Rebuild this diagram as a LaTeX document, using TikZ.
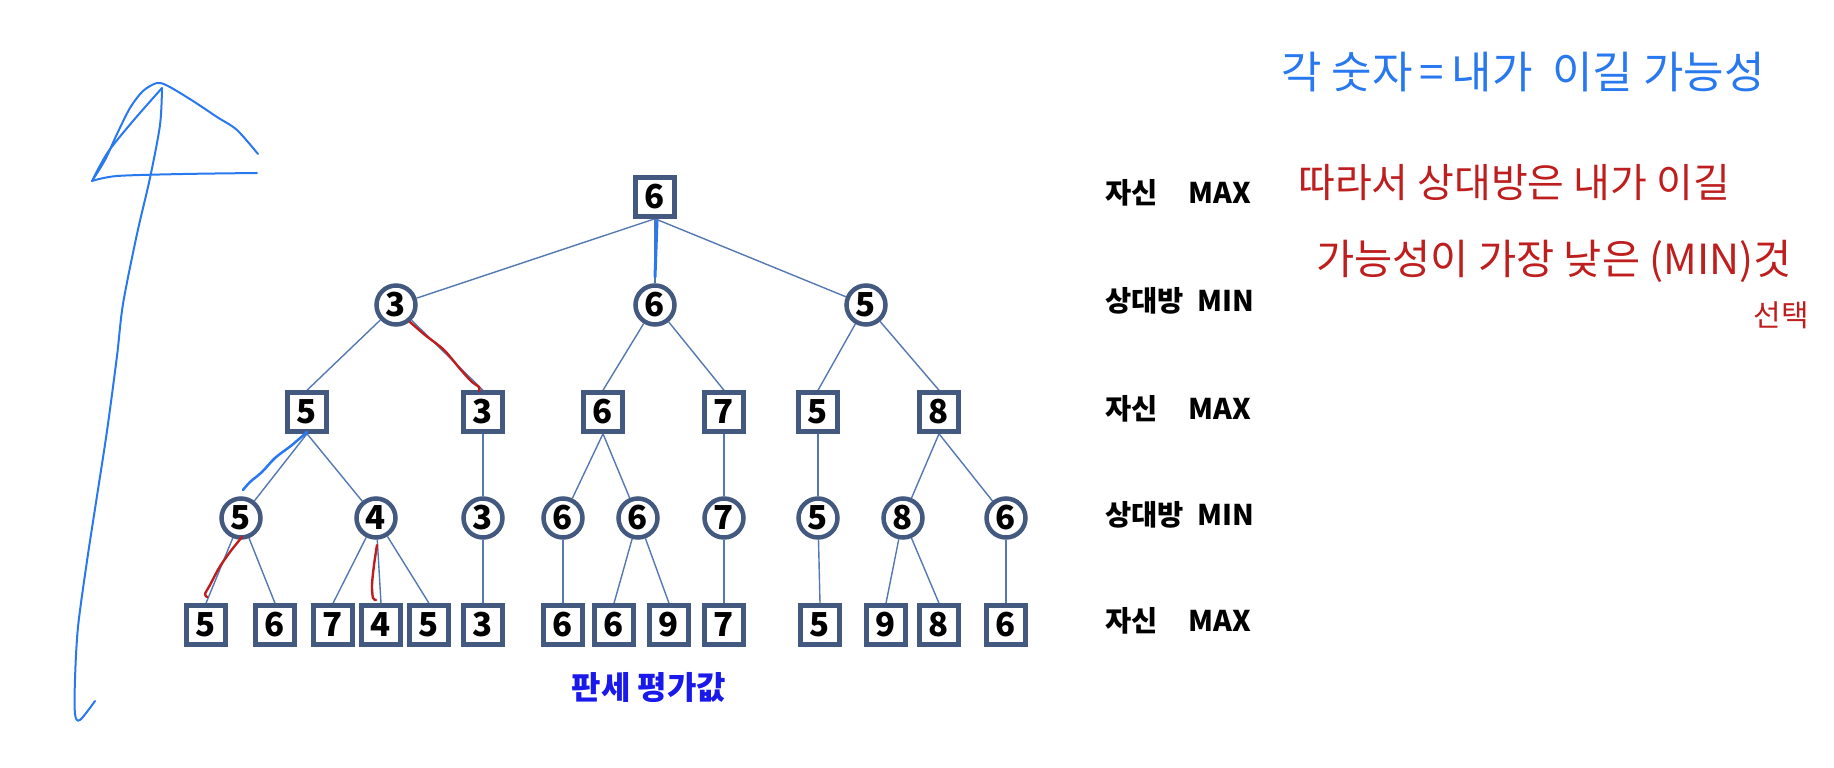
\documentclass[tikz,border=0pt]{standalone}
\usepackage{fontspec}
\setmainfont{Noto Sans CJK KR}
\usetikzlibrary{backgrounds}
\definecolor{nodeborder}{RGB}{68,89,128}
\definecolor{edgecol}{RGB}{84,120,178}
\definecolor{penblue}{RGB}{40,120,240}
\definecolor{penred}{RGB}{190,30,30}
\definecolor{titleblue}{RGB}{25,25,235}
\tikzset{
  sq/.style={draw=nodeborder, line width=4.5pt, fill=white, rectangle, minimum size=39pt, inner sep=0pt,
             font=\fontsize{33pt}{33pt}\selectfont\bfseries},
  ci/.style={draw=nodeborder, line width=4.5pt, fill=white, circle, minimum size=39pt, inner sep=0pt,
             font=\fontsize{33pt}{33pt}\selectfont\bfseries},
  edge/.style={draw=edgecol, line width=1.4pt},
  lvl/.style={anchor=west, inner sep=0pt, font=\fontsize{28.5pt}{28.5pt}\selectfont\bfseries},
  bluepen/.style={draw=penblue, line width=2pt, line cap=round, line join=round},
  redpen/.style={draw=penred, line width=2.4pt, line cap=round, line join=round},
}
\begin{document}
\begin{tikzpicture}[x=1pt, y=-1pt]
\useasboundingbox (0,0) rectangle (1834,768);
% root
\node[sq] (r) at (655,197) {6};
% level 1
\node[ci] (a) at (396,305) {3};
\node[ci] (b) at (655,305) {6};
\node[ci] (c) at (866,305) {5};
% level 2
\node[sq] (a1) at (307,412) {5};
\node[sq] (a2) at (483,412) {3};
\node[sq] (b1) at (603,412) {6};
\node[sq] (b2) at (724,412) {7};
\node[sq] (c1) at (818,412) {5};
\node[sq] (c2) at (939,412) {8};
% level 3
\node[ci] (a11) at (241,518) {5};
\node[ci] (a12) at (376,518) {4};
\node[ci] (a21) at (483,518) {3};
\node[ci] (b11) at (563,518) {6};
\node[ci] (b12) at (638,518) {6};
\node[ci] (b21) at (724,518) {7};
\node[ci] (c11) at (818,518) {5};
\node[ci] (c21) at (903,518) {8};
\node[ci] (c22) at (1006,518) {6};
% leaves
\node[sq] (l1) at (206,625) {5};
\node[sq] (l2) at (275,625) {6};
\node[sq] (l3) at (333,625) {7};
\node[sq] (l4) at (381,625) {4};
\node[sq] (l5) at (429,625) {5};
\node[sq] (l6) at (483,625) {3};
\node[sq] (l7) at (563,625) {6};
\node[sq] (l8) at (614,625) {6};
\node[sq] (l9) at (669,625) {9};
\node[sq] (l10) at (724,625) {7};
\node[sq] (l11) at (820,625) {5};
\node[sq] (l12) at (886,625) {9};
\node[sq] (l13) at (939,625) {8};
\node[sq] (l14) at (1006,625) {6};
% edges
\begin{scope}[on background layer]
\draw[edge] (r.south) -- (a);
\draw[edge] (r.south) -- (b);
\draw[edge] (r.south) -- (c);
\draw[edge] (a) -- (a1.north);
\draw[edge] (a) -- (a2.north);
\draw[edge] (b) -- (b1.north);
\draw[edge] (b) -- (b2.north);
\draw[edge] (c) -- (c1.north);
\draw[edge] (c) -- (c2.north);
\draw[edge] (a1.south) -- (a11);
\draw[edge] (a1.south) -- (a12);
\draw[edge] (a2.south) -- (a21);
\draw[edge] (b1.south) -- (b11);
\draw[edge] (b1.south) -- (b12);
\draw[edge] (b2.south) -- (b21);
\draw[edge] (c1.south) -- (c11);
\draw[edge] (c2.south) -- (c21);
\draw[edge] (c2.south) -- (c22);
\draw[edge] (a11) -- (l1.north);
\draw[edge] (a11) -- (l2.north);
\draw[edge] (a12) -- (l3.north);
\draw[edge] (a12) -- (l4.north);
\draw[edge] (a12) -- (l5.north);
\draw[edge] (a21) -- (l6.north);
\draw[edge] (b11) -- (l7.north);
\draw[edge] (b12) -- (l8.north);
\draw[edge] (b12) -- (l9.north);
\draw[edge] (b21) -- (l10.north);
\draw[edge] (c11) -- (l11.north);
\draw[edge] (c21) -- (l12.north);
\draw[edge] (c21) -- (l13.north);
\draw[edge] (c22) -- (l14.north);
\end{scope}
% caption
\node[font=\fontsize{32pt}{32pt}\selectfont\bfseries, text=titleblue] (cap) at (649,688) {판세 평가값};
% level labels
\node[lvl] (t0) at (1105,193) {자신\hspace{31pt}MAX};
\node[lvl] (t1) at (1105,301) {상대방\hspace{14pt}MIN};
\node[lvl] (t2) at (1105,409) {자신\hspace{31pt}MAX};
\node[lvl] (t3) at (1105,515) {상대방\hspace{14pt}MIN};
\node[lvl] (t4) at (1105,621) {자신\hspace{31pt}MAX};
% handwritten notes
\node[anchor=west, inner sep=0pt, text=penblue, font=\fontsize{44pt}{44pt}\selectfont] (h1) at (1281,72) {각 숫자\,=\,내가\ \ 이길 가능성};
\node[anchor=west, inner sep=0pt, text=penred, font=\fontsize{40pt}{40pt}\selectfont] (h2) at (1298,183) {따라서 상대방은 내가 이길};
\node[anchor=west, inner sep=0pt, text=penred, font=\fontsize{41.5pt}{41.5pt}\selectfont] (h3) at (1316,261) {가능성이 가장 낮은 (MIN)것};
\node[inner sep=0pt, text=penred, font=\fontsize{30pt}{30pt}\selectfont] (h4) at (1781,315) {선택};
% freehand strokes (left arrow)
\draw[bluepen] plot[smooth] coordinates {(92,181) (105,160) (117,134) (130,108) (143,91) (157,83) (168,86) (193,101) (217,117) (237,130) (258,154)};
\draw[bluepen] plot[smooth] coordinates {(162,88) (133,121) (108,152) (93,179)};
\draw[bluepen] plot[smooth] coordinates {(92,181) (117,176) (183,174) (257,173)};
\draw[bluepen] plot[smooth] coordinates {(162,88) (160,125) (150,178) (137,234) (123,304) (117,356) (107,431) (97,496) (87,561) (78,627) (75,679) (75,714) (80,720) (95,701)};
% strokes on tree
\draw[bluepen, line width=3pt] (657,221) -- (655,277);
\draw[bluepen, line width=2.5pt] plot[smooth] coordinates {(307,432) (292,445) (275,458) (262,472) (250,482) (243,490)};
\draw[redpen] plot[smooth] coordinates {(410,322) (425,335) (444,350) (461,370) (472,382) (479,387) (479,391)};
\draw[redpen] plot[smooth] coordinates {(242,537) (230,552) (219,568) (210,585) (205,594) (207,597)};
\draw[redpen] plot[smooth] coordinates {(377,545) (374,565) (372,585) (373,598) (376,600)};
\end{tikzpicture}
\end{document}
